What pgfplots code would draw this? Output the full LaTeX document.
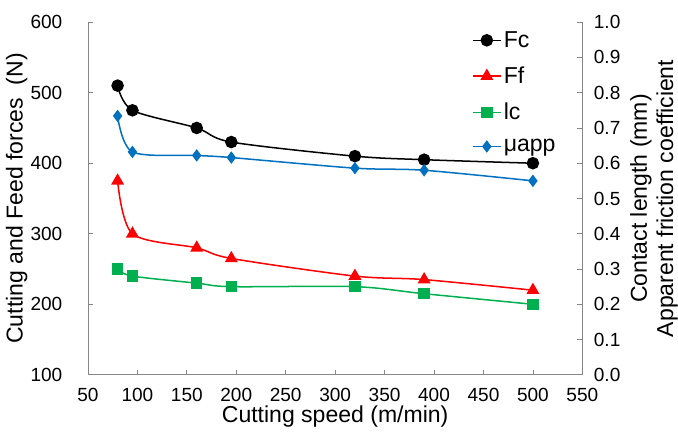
\documentclass[border=0pt]{standalone}
\usepackage{pgfplots}
\pgfplotsset{compat=1.18}
\usepackage{fontspec}
\setmainfont{Liberation Sans}
\definecolor{cgreen}{RGB}{0,176,80}
\definecolor{cblue}{RGB}{0,112,192}
\definecolor{axgray}{RGB}{134,134,134}
\begin{document}
\begin{tikzpicture}
\pgfplotsset{
  every axis/.append style={
    scale only axis, width=492bp, height=351bp,
    xmin=50, xmax=550,
    /pgf/number format/assume math mode=true,
    tick label style={font=\fontsize{19}{22}\selectfont},
    label style={font=\fontsize{23}{27}\selectfont, inner sep=0pt},
    axis line style={axgray, line width=0.8pt},
    tick style={axgray, line width=0.8pt},
    major tick length=5bp,
    tick align=inside,
  },
}
\begin{axis}[
  axis y line*=left, axis x line*=bottom,
  ymin=100, ymax=600,
  ytick={100,200,...,600},
  xtick={50,100,...,550},
  xticklabel style={yshift=-10bp},
  yticklabel style={xshift=-22bp},
  xlabel={Cutting speed (m/min)},
  ylabel={Cutting and Feed forces\ \ (N)},
  ylabel style={at={(axis description cs:-0.144,0.5)}, anchor=center},
  xlabel style={at={(axis description cs:0.5,-0.118)}, anchor=center},
  legend style={draw=none, fill=none, at={(0.77,0.985)}, anchor=north west,
    font=\fontsize{23}{27}\selectfont, row sep=14bp,
    /tikz/every even column/.append style={column sep=2bp}},
  legend cell align=left,
  legend image code/.code={\draw[mark repeat=2,mark phase=2] plot coordinates {(0cm,0cm)(0.5cm,0cm)(1cm,0cm)};},
]
\addplot[black, line width=1.5bp, smooth, mark=*, mark size=5.5bp] coordinates {
(80,510) (95,475) (160,450) (195,430) (320,410) (390,405) (500,400)};
\addlegendentry{Fc}
\addplot[red, line width=1.5bp, smooth, mark=triangle*, mark size=6bp] coordinates {
(80,375) (95,300) (160,280) (195,265) (320,240) (390,235) (500,220)};
\addlegendentry{Ff}
\addlegendimage{cgreen, line width=1.5bp, mark=square*, mark size=5bp}
\addlegendentry{lc}
\addlegendimage{cblue, line width=1.5bp, mark=diamond*, mark size=5bp}
\addlegendentry{μapp}
\end{axis}
\begin{axis}[
  axis y line*=right, axis x line=none,
  ymin=0, ymax=1,
  ytick={0,0.1,...,1.0},
  yticklabel style={xshift=8bp, /pgf/number format/.cd, fixed, fixed zerofill, precision=1},
  ylabel={\shortstack{Contact length (mm)\\[2bp]Apparent friction coefficient}},
  ylabel style={at={(axis description cs:1.145,0.5)}, anchor=center, align=center},
]
\addplot[cgreen, line width=1.5bp, smooth, mark=square*, mark size=5bp] coordinates {
(80,0.30) (95,0.28) (160,0.26) (195,0.25) (320,0.25) (390,0.23) (500,0.20)};
\addplot[cblue, line width=1.5bp, smooth, mark=diamond*, mark size=5bp] coordinates {
(80,0.734) (95,0.632) (160,0.622) (195,0.616) (320,0.586) (390,0.58) (500,0.55)};
\end{axis}
\path (current bounding box.north) ++(0,12bp);
\path (current bounding box.south) ++(0,-7bp);
\path (current bounding box.west) ++(-6bp,0);
\end{tikzpicture}
\end{document}
